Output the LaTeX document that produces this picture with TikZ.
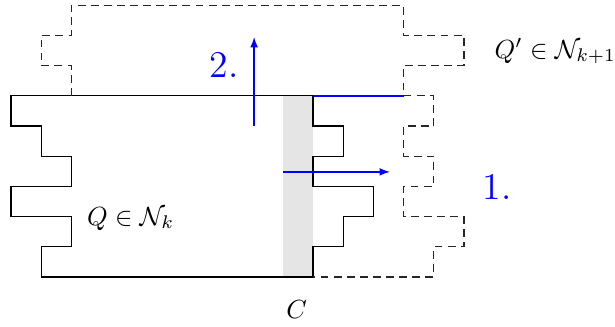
\documentclass[tikz,border=0pt]{standalone}
\usetikzlibrary{arrows.meta}
\begin{document}
\begin{tikzpicture}[x=0.405cm,y=0.405cm,
  solidedge/.style={black,line width=0.4pt},
  dashedge/.style={black!85,line width=0.4pt,dash pattern=on 3pt off 2pt},
  blueedge/.style={blue,line width=0.6pt},
  movearrow/.style={blue,line width=0.6pt,-{Latex[length=4pt,width=3pt]}},
  lbl/.style={inner sep=0pt,anchor=base west},
  biglbl/.style={inner sep=0pt,anchor=base west,text=blue,font=\Large}]
\useasboundingbox (-0.364,-1.623) rectangle (20.0,9.172);
% collar C
\fill[black!10] (9,0) rectangle (10,6);
% Q
\draw[solidedge] (0,6) -- (10,6) -- (10,5) -- (11,5) -- (11,4) -- (10,4) -- (10,3) -- (12,3) -- (12,2) -- (11,2) -- (11,1) -- (10,1) -- (10,0)
  -- (1,0) -- (1,1) -- (2,1) -- (2,2) -- (0,2) -- (0,3) -- (2,3) -- (2,4) -- (1,4) -- (1,5) -- (0,5) -- cycle;
% Q'
\draw[dashedge] (2,6) -- (2,7) -- (1,7) -- (1,8) -- (2,8) -- (2,9) -- (13,9) -- (13,8) -- (15,8) -- (15,7) -- (13,7) -- (13,6);
% extension
\draw[dashedge] (13,6) -- (14,6) -- (14,5) -- (13,5) -- (13,4) -- (14,4) -- (14,3) -- (13,3) -- (13,2) -- (15,2) -- (15,1) -- (14,1) -- (14,0) -- (10,0);
\draw[blueedge] (10,6) -- (13,6);
% arrows
\coordinate (a1s) at (9,3.48);
\coordinate (a1e) at (12.55,3.48);
\coordinate (a2s) at (8.05,5);
\coordinate (a2e) at (8.05,7.95);
\draw[movearrow] (a1s) -- (a1e);
\draw[movearrow] (a2s) -- (a2e);
% labels
\node[biglbl] (one) at (15.6,2.55) {1.};
\node[biglbl] (two) at (6.57,6.59) {2.};
\node[lbl] (qp) at (16.0,7.25) {$Q'\in\mathcal{N}_{k+1}$};
\node[lbl] (q) at (2.5,1.72) {$Q\in\mathcal{N}_k$};
\node[lbl] (c) at (9.1,-1.36) {$C$};
\end{tikzpicture}
\end{document}
